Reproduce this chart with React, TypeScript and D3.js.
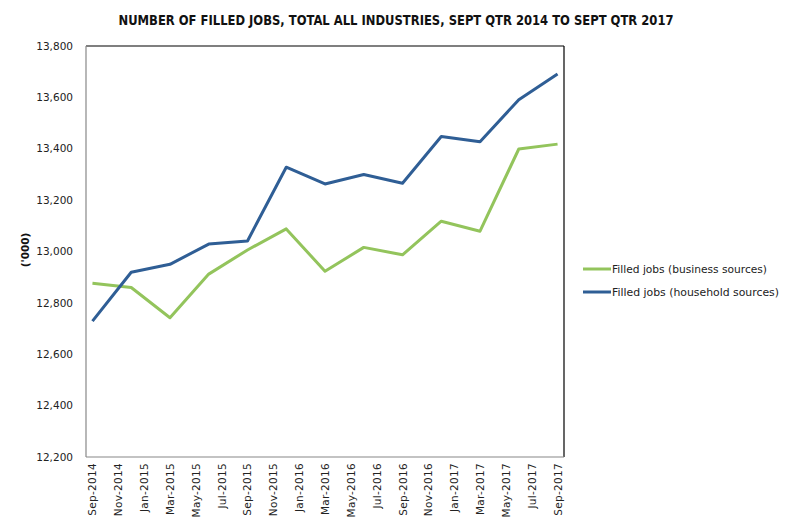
import {useEffect, useRef} from 'react'
import * as d3 from 'd3'

// quarterly observations, Sep-2014 .. Sep-2017
const quarters = [
  'Sep-2014', 'Dec-2014', 'Mar-2015', 'Jun-2015', 'Sep-2015', 'Dec-2015', 'Mar-2016',
  'Jun-2016', 'Sep-2016', 'Dec-2016', 'Mar-2017', 'Jun-2017', 'Sep-2017',
];
const business = [12876, 12860, 12742, 12912, 13006, 13088, 12923, 13016, 12987, 13118, 13079, 13399, 13418];
const household = [12729, 12919, 12950, 13029, 13041, 13328, 13263, 13300, 13266, 13448, 13427, 13591, 13691];

// bottom axis shows every second month
const monthLabels = [
  'Sep-2014', 'Nov-2014', 'Jan-2015', 'Mar-2015', 'May-2015', 'Jul-2015', 'Sep-2015',
  'Nov-2015', 'Jan-2016', 'Mar-2016', 'May-2016', 'Jul-2016', 'Sep-2016', 'Nov-2016',
  'Jan-2017', 'Mar-2017', 'May-2017', 'Jul-2017', 'Sep-2017',
];
const yTicks = [12200, 12400, 12600, 12800, 13000, 13200, 13400, 13600, 13800];

const seriesNames = ['Filled jobs (business sources)', 'Filled jobs (household sources)'];
const colors = ['#93c45c', '#2f5e95'];

const W = 794, H = 530;
const plot = {left: 86, right: 564, top: 46, bottom: 457};

const App = () => {
  const ref = useRef<SVGSVGElement>(null);

  useEffect(() => {
    if (!ref.current) return;
    const svg = d3.select(ref.current);
    svg.selectAll('*').remove();

    const parse = d3.timeParse('%b-%Y');
    const start = parse(monthLabels[0])!;
    const monthIndex = (s: string) => d3.timeMonth.count(start, parse(s)!);

    // month index with half-month padding on both ends (date axis, month base)
    const x = d3.scaleLinear().domain([-0.5, 36.5]).range([plot.left, plot.right]);
    const y = d3.scaleLinear().domain([12200, 13800]).range([plot.bottom, plot.top]);

    svg.append('rect').attr('width', W).attr('height', H).attr('fill', 'white');

    // title
    svg.append('text')
      .attr('x', 396).attr('y', 25)
      .attr('text-anchor', 'middle')
      .attr('font-family', "'Liberation Sans Narrow', 'DejaVu Sans Condensed', 'Open Sans', sans-serif")
      .attr('font-weight', 'bold')
      .attr('font-size', 13.5)
      .attr('textLength', 555)
      .attr('lengthAdjust', 'spacingAndGlyphs')
      .attr('fill', '#111')
      .text('NUMBER OF FILLED JOBS, TOTAL ALL INDUSTRIES, SEPT QTR 2014 TO SEPT QTR 2017');

    // frame: gray axes, black top/right
    const frame = [
      {x1: plot.left, x2: plot.right, y1: plot.top, y2: plot.top, c: '#000'},
      {x1: plot.right, x2: plot.right, y1: plot.top, y2: plot.bottom, c: '#000'},
      {x1: plot.left, x2: plot.left, y1: plot.top, y2: plot.bottom, c: '#888'},
      {x1: plot.left, x2: plot.right, y1: plot.bottom, y2: plot.bottom, c: '#888'},
    ];
    svg.append('g')
      .selectAll('line')
      .data(frame)
      .join('line')
        .attr('x1', d => d.x1).attr('x2', d => d.x2)
        .attr('y1', d => d.y1).attr('y2', d => d.y2)
        .attr('stroke', d => d.c)
        .attr('stroke-width', 1.2);

    // y labels
    svg.append('g')
      .selectAll('text')
      .data(yTicks)
      .join('text')
        .attr('x', 73)
        .attr('y', d => y(d))
        .attr('dy', '0.35em')
        .attr('text-anchor', 'end')
        .attr('font-family', "'DejaVu Sans', Verdana, sans-serif")
        .attr('font-size', 10.5)
        .attr('fill', '#222')
        .text(d => d3.format(',')(d));

    svg.append('text')
      .attr('transform', `translate(29,250) rotate(-90)`)
      .attr('text-anchor', 'middle')
      .attr('font-family', "'DejaVu Sans', Verdana, sans-serif")
      .attr('font-weight', 'bold')
      .attr('font-size', 10.5)
      .attr('fill', '#111')
      .text("('000)");

    // x labels
    svg.append('g')
      .selectAll('text')
      .data(monthLabels)
      .join('text')
        .attr('transform', d => `translate(${x(monthIndex(d)) + 4},463) rotate(-90)`)
        .attr('text-anchor', 'end')
        .attr('font-family', "'DejaVu Sans', Verdana, sans-serif")
        .attr('font-size', 10.5)
        .attr('letter-spacing', 0.3)
        .attr('fill', '#222')
        .text(d => d);

    // lines
    const line = d3.line<[number, number]>()
      .x(d => x(d[0]))
      .y(d => y(d[1]));

    [business, household].forEach((vals, i) => {
      const pts = vals.map((v, j) => [monthIndex(quarters[j]), v] as [number, number]);
      svg.append('path')
        .attr('d', line(pts))
        .attr('fill', 'none')
        .attr('stroke', colors[i])
        .attr('stroke-width', 3)
        .attr('stroke-linejoin', 'round');
    });

    // legend
    const legend = svg.append('g');
    seriesNames.forEach((name, i) => {
      const ly = 269 + i * 23;
      legend.append('line')
        .attr('x1', 583).attr('x2', 611).attr('y1', ly).attr('y2', ly)
        .attr('stroke', colors[i]).attr('stroke-width', 3);
      legend.append('text')
        .attr('x', 612).attr('y', ly)
        .attr('dy', '0.35em')
        .attr('font-family', "'DejaVu Sans', Verdana, sans-serif")
        .attr('font-size', 10)
        .attr('textLength', i === 0 ? 155 : 167)
        .attr('lengthAdjust', 'spacingAndGlyphs')
        .attr('fill', '#222')
        .text(name);
    });

    return () => {
      svg.selectAll('*').remove();
    }
  }, []);

  return (
    <svg
      ref={ref}
      width={W}
      height={H}
      style={{position: 'absolute', left: 0, top: 0}}
    />
  )
}
export default App
